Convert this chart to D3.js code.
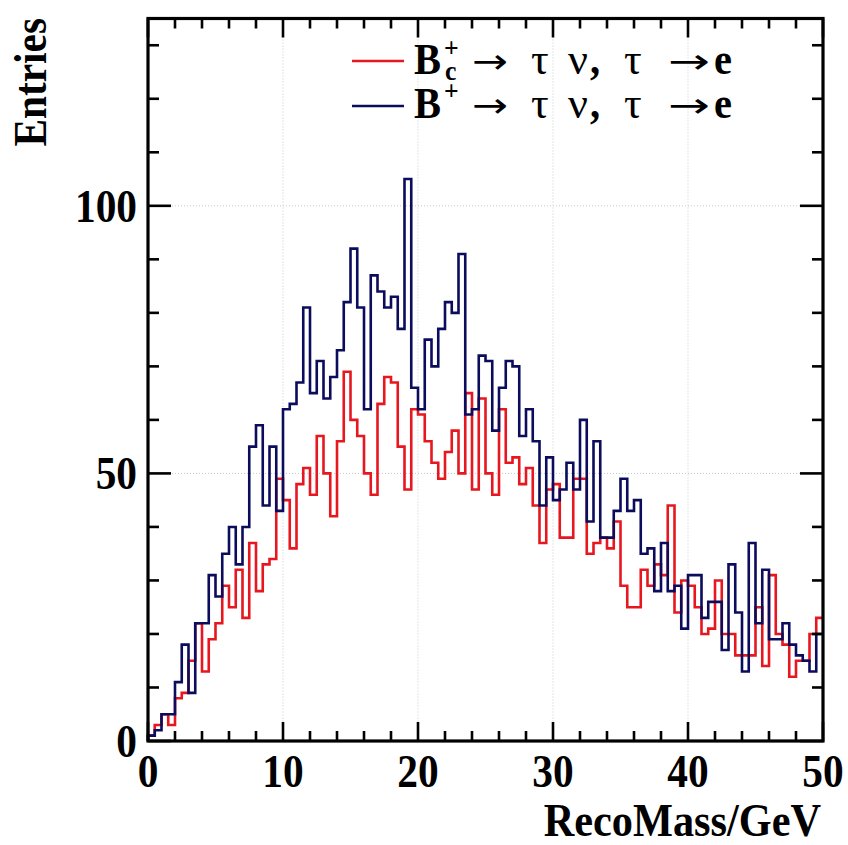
<!DOCTYPE html>
<html>
<head>
<meta charset="utf-8">
<script src="https://cdn.jsdelivr.net/npm/d3@7"></script>
<style>
  body { margin: 0; background: #ffffff; }
  svg { display: block; }
</style>
</head>
<body>
<svg id="chart" width="848" height="845"></svg>
<script>
// Histogram definition: 100 bins between 0 and 50 GeV
const massRange = [0, 50];
const binCount = 100;

// Entries per bin, B_c^+ -> tau nu, tau -> e
const bcEntries = [
  1, 3, 5, 3, 8, 9, 15, 22, 13, 19,
  22, 29, 25, 32, 23, 37, 28, 33, 34, 49,
  45, 36, 48, 51, 46, 57, 50, 42, 56, 69,
  60, 57, 50, 46, 63, 68, 67, 55, 47, 62,
  61, 56, 52, 49, 54, 58, 50, 65, 47, 64,
  50, 46, 62, 52, 53, 48, 51, 44, 37, 47,
  48, 38, 38, 49, 49, 35, 37, 38, 36, 41,
  29, 25, 25, 32, 29, 33, 31, 44, 24, 30,
  29, 25, 20, 21, 30, 20, 20, 16, 16, 16,
  25, 14, 31, 20, 18, 12, 15, 15, 20, 23
];

// Entries per bin, B^+ -> tau nu, tau -> e
const bplusEntries = [
  1, 2, 5, 5, 11, 18, 9, 22, 22, 31,
  27, 35, 40, 33, 40, 55, 59, 44, 55, 43,
  62, 63, 67, 81, 65, 71, 64, 68, 73, 82,
  92, 81, 62, 87, 84, 81, 83, 77, 105, 66,
  62, 75, 70, 77, 82, 80, 91, 61, 62, 72,
  71, 58, 66, 71, 70, 57, 62, 56, 44, 53,
  45, 47, 52, 47, 60, 41, 56, 38, 38, 43,
  49, 43, 45, 35, 36, 28, 37, 28, 29, 21,
  31, 31, 23, 26, 26, 17, 33, 24, 13, 37,
  22, 32, 19, 19, 22, 18, 16, 15, 13, 20
];

const xMajorTicks = [0, 10, 20, 30, 40, 50];
const yMajorTicks = [0, 50, 100];
const yMax = 135;

const xTitle = "RecoMass/GeV";
const yTitle = "Entries";

// ---- layout ----
const frame = { left: 148, right: 823, top: 18.5, bottom: 741 };
const svg = d3.select("#chart");

const x = d3.scaleLinear().domain(massRange).range([frame.left, frame.right]);
const y = d3.scaleLinear().domain([0, yMax]).range([frame.bottom, frame.top]);

const binWidth = (massRange[1] - massRange[0]) / binCount;
const serif = "'Liberation Serif', 'Times New Roman', serif";
const arrowFont = "'DejaVu Sans', sans-serif";

// ---- dotted grid ----
const grid = svg.append("g").attr("stroke", "#c9c9c9").attr("stroke-width", 1)
  .attr("stroke-dasharray", "1,2").attr("fill", "none");
grid.selectAll("line.gx").data(xMajorTicks.slice(1, -1)).join("line")
  .attr("x1", d => x(d)).attr("x2", d => x(d))
  .attr("y1", frame.top).attr("y2", frame.bottom);
grid.selectAll("line.gy").data(yMajorTicks.slice(1)).join("line")
  .attr("x1", frame.left).attr("x2", frame.right)
  .attr("y1", d => y(d)).attr("y2", d => y(d));

// ---- histogram outlines ----
function stepPoints(values) {
  const pts = [[massRange[0], 0]];
  values.forEach((v, i) => pts.push([massRange[0] + i * binWidth, v]));
  pts.push([massRange[1], values[values.length - 1]]);
  return pts;
}
const stepLine = d3.line().x(d => x(d[0])).y(d => y(d[1])).curve(d3.curveStepAfter);

const bcColor = "#e6171f";
const bplusColor = "#0c0c5c";
const series = [
  { values: bcEntries, color: bcColor },
  { values: bplusEntries, color: bplusColor }
];
svg.append("g").selectAll("path").data(series).join("path")
  .attr("d", d => stepLine(stepPoints(d.values)))
  .attr("fill", "none")
  .attr("stroke", d => d.color)
  .attr("stroke-width", 2.6)
  .attr("stroke-linejoin", "miter");

// ---- axes with ticks on all four sides ----
const axes = svg.append("g").attr("stroke", "#000").attr("stroke-width", 2.6);
const xMinor = d3.range(massRange[0], massRange[1] + 0.001, 2);
const yMinor = d3.range(0, yMax + 0.001, 10);
const tickX = (v) => xMajorTicks.includes(v) ? 19 : 10;
const tickY = (v) => yMajorTicks.includes(v) ? 23 : 11;

xMinor.forEach(v => {
  axes.append("line").attr("x1", x(v)).attr("x2", x(v))
    .attr("y1", frame.bottom).attr("y2", frame.bottom - tickX(v));
  axes.append("line").attr("x1", x(v)).attr("x2", x(v))
    .attr("y1", frame.top).attr("y2", frame.top + tickX(v));
});
yMinor.forEach(v => {
  axes.append("line").attr("y1", y(v)).attr("y2", y(v))
    .attr("x1", frame.left).attr("x2", frame.left + tickY(v));
  axes.append("line").attr("y1", y(v)).attr("y2", y(v))
    .attr("x1", frame.right).attr("x2", frame.right - tickY(v));
});

svg.append("rect")
  .attr("x", frame.left).attr("y", frame.top)
  .attr("width", frame.right - frame.left).attr("height", frame.bottom - frame.top)
  .attr("fill", "none").attr("stroke", "#000").attr("stroke-width", 3.2);

// ---- text helper: narrow serif labels ----
const squeeze = 0.88;
function label(parent, txt, px, py, opts) {
  const o = Object.assign({ size: 47, anchor: "middle", rotate: 0, sx: squeeze, weight: "bold",
                            width: null, family: serif }, opts || {});
  const t = parent.append("text")
    .attr("text-anchor", o.anchor)
    .attr("font-family", o.family)
    .attr("font-weight", o.weight)
    .attr("font-size", o.size)
    .attr("fill", "#000")
    .text(txt);
  let sx = o.sx;
  if (o.width) {
    // stretch the glyph horizontally to a given width
    const w = t.node().getBBox().width;
    if (w > 0) sx = o.width / w;
  }
  t.attr("transform", `translate(${px},${py}) rotate(${o.rotate}) scale(${sx},1)`);
  return t;
}

xMajorTicks.forEach(v => label(svg, String(v), x(v), 787, { anchor: "middle" }));
yMajorTicks.forEach(v => label(svg, String(v), 137, y(v) + 16, { anchor: "end" }));

label(svg, xTitle, 821, 836, { anchor: "end", size: 46, sx: 0.92 });
label(svg, yTitle, 46, 18, { anchor: "end", rotate: -90 });

// ---- legend ----
const legendRows = [
  { color: bcColor, lineY: 61, base: 74, sub: "c", supBase: 57 },
  { color: bplusColor, lineY: 106, base: 118, sub: null, supBase: 100 }
];
const legend = svg.append("g");
legendRows.forEach(r => {
  legend.append("line")
    .attr("x1", 352).attr("x2", 404)
    .attr("y1", r.lineY).attr("y2", r.lineY)
    .attr("stroke", r.color).attr("stroke-width", 2.6);

  const o = (extra) => Object.assign({ anchor: "start", sx: 0.92 }, extra);
  const arrow = (ax, w) => label(legend, "\u2192", ax, r.base - 1,
    o({ size: 34, weight: "normal", family: arrowFont, width: w }));
  label(legend, "B", 414, r.base, o({ size: 44 }));
  label(legend, "+", 444, r.supBase, o({ size: 28 }));
  if (r.sub) label(legend, r.sub, 445, r.base + 6, o({ size: 28 }));
  arrow(472, 36);
  label(legend, "\u03C4", 531, r.base, o({ size: 44, weight: "normal", sx: 1 }));
  label(legend, "\u03BD", 568, r.base, o({ size: 44, weight: "normal", sx: 1 }));
  label(legend, ",", 590, r.base, o({ size: 44 }));
  label(legend, "\u03C4", 624, r.base, o({ size: 44, weight: "normal", sx: 1 }));
  arrow(668, 42);
  label(legend, "e", 714, r.base, o({ size: 44 }));
});
</script>
</body>
</html>
